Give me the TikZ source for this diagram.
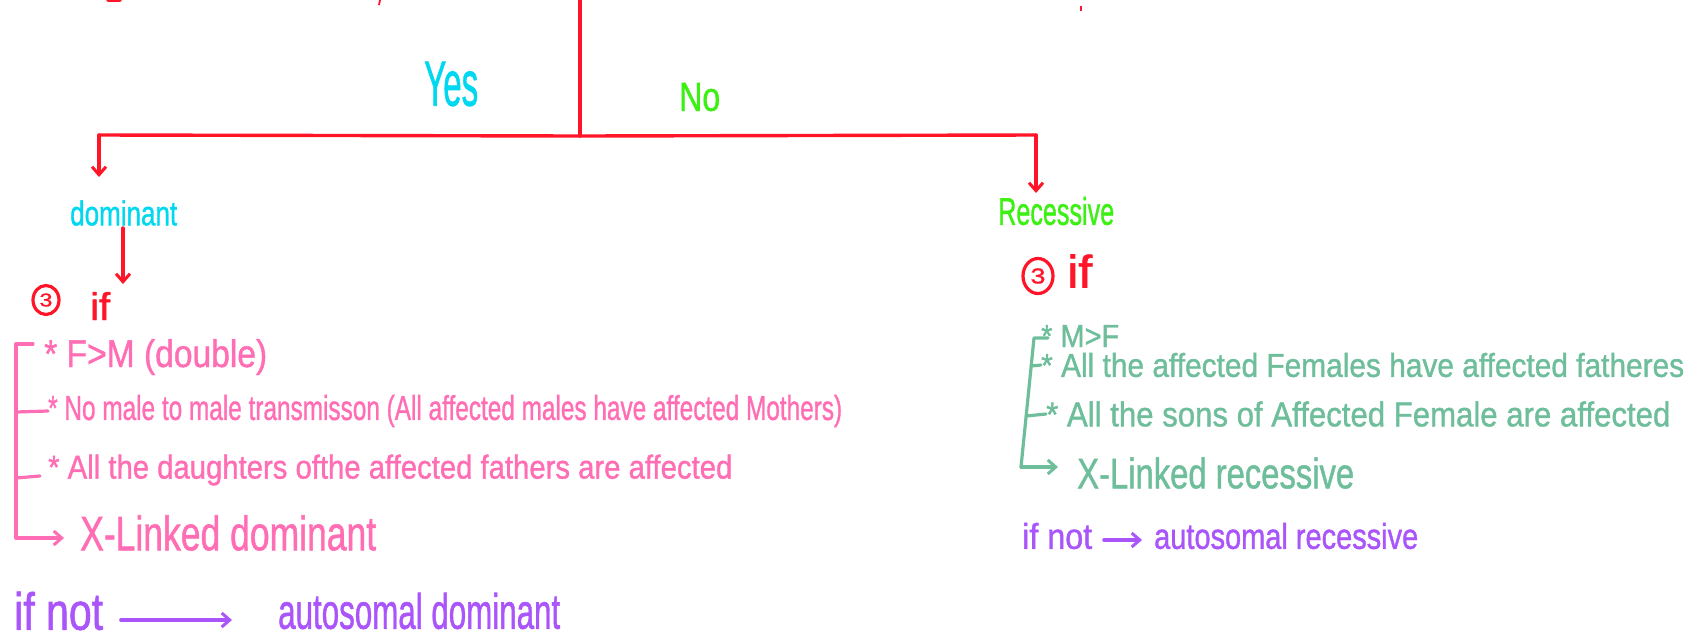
\documentclass[tikz,border=0pt]{standalone}
\usepackage{fontspec}
\usetikzlibrary{arrows.meta,shapes.geometric}
\newfontfamily\hand[FakeBold=1.2]{Liberation Sans}
\definecolor{hred}{RGB}{255,20,40}
\definecolor{hcyan}{RGB}{0,215,240}
\definecolor{hgreen}{RGB}{60,240,20}
\definecolor{hpink}{RGB}{255,110,180}
\definecolor{hteal}{RGB}{110,190,155}
\definecolor{hpurple}{RGB}{170,85,250}
\newcommand\hw[3]{\resizebox{#1pt}{#2pt}{\hand #3}}
\begin{document}
\begin{tikzpicture}[x=1pt,y=-1pt,
  txt/.style={inner sep=0pt, anchor=west},
  redline/.style={draw=hred, line width=3.4pt, line cap=round, line join=round},
  pinkline/.style={draw=hpink, line width=3.2pt, line cap=round, line join=round},
  tealline/.style={draw=hteal, line width=3.2pt, line cap=round, line join=round},
  purpline/.style={draw=hpurple, line width=3.6pt, line cap=round},
  tip/.style={-{Straight Barb[length=8pt,width=14pt,line width=3pt]}},
  circ/.style={ellipse, draw=hred, line width=3.2pt, inner sep=0pt, text=hred}]
\useasboundingbox (0,0) rectangle (1704,638);
% tiny fragments at the top edge
\draw[hred, line width=3.5pt, line cap=round] (108,0.5) -- (120,0.5);
\draw[hred, line width=1.8pt] (380,0) -- (379,5);
\draw[hred, line width=1.8pt] (1081,6) -- (1081,11);
% top tree
\coordinate (top) at (580,0);
\coordinate (j) at (580,136);
\coordinate (lc) at (99,135);
\coordinate (rc) at (1036,135);
\coordinate (ld) at (99,177);
\coordinate (rd) at (1036,193);
\draw[redline] (top) -- (j);
\draw[redline] (j) -- (lc);
\draw[redline] (j) -- (rc);
\draw[redline, tip] (lc) -- (ld);
\draw[redline, tip] (rc) -- (rd);
\node[txt, text=hcyan] (yes) at (424,84) {\hw{54}{44}{Yes}};
\node[txt, text=hgreen] (no) at (679,97) {\hw{41}{28}{No}};
% left branch
\node[txt, text=hcyan] (dom) at (70,213) {\hw{107}{25}{dominant}};
\coordinate (da) at (123,228);
\coordinate (db) at (123,284);
\draw[redline, tip] (da) -- (db);
\node[circ, minimum width=26pt, minimum height=29pt] (c3l) at (46,300) {\hw{13}{13}{3}};
\node[txt, text=hred] (ifl) at (90,306) {\hw{20}{28}{if}};
\node[txt, text=hpink] (l1) at (44,357) {\hw{223}{28}{* F>M (double)}};
\node[txt, text=hpink] (l2) at (48,411) {\hw{794}{25}{* No male to male transmisson (All affected males have affected Mothers)}};
\node[txt, text=hpink] (l3) at (48,470) {\hw{684}{24}{* All the daughters ofthe affected fathers are affected}};
\node[txt, text=hpink] (l4) at (80,533) {\hw{296}{35}{X-Linked dominant}};
\coordinate (bl0) at (33,344);
\coordinate (bl1) at (16,344);
\coordinate (bl2) at (16,538);
\coordinate (bl3) at (64,538);
\draw[pinkline] (bl0) -- (bl1) -- (bl2);
\draw[pinkline, tip] (bl2) -- (bl3);
\draw[pinkline] (16,412) -- (l2.west);
\draw[pinkline] (16,478) -- (40,476);
\node[txt, text=hpurple] (nl) at (14,611) {\hw{89}{38}{if not}};
\node[txt, text=hpurple] (al) at (278,611) {\hw{282}{36}{autosomal dominant}};
\coordinate (pa) at (121,620);
\coordinate (pb) at (232,620);
\draw[purpline, tip] (pa) -- (pb);
% right branch
\node[txt, text=hgreen] (rec) at (998,211) {\hw{116}{28}{Recessive}};
\node[circ, minimum width=30pt, minimum height=35pt] (c3r) at (1038,276) {\hw{15}{15}{3}};
\node[txt, text=hred] (ifr) at (1067,271) {\hw{25}{33}{if}};
\node[txt, text=hteal] (r1) at (1041,336) {\hw{78}{22}{* M>F}};
\node[txt, text=hteal] (r2) at (1041,365) {\hw{643}{24}{* All the affected Females have affected fatheres}};
\node[txt, text=hteal] (r3) at (1046,414) {\hw{624}{25}{* All the sons of Affected Female are affected}};
\node[txt, text=hteal] (r4) at (1077,473) {\hw{277}{31}{X-Linked recessive}};
\coordinate (br0) at (1048,338);
\coordinate (br1) at (1034,338);
\coordinate (br2) at (1021,467);
\coordinate (br3) at (1058,467);
\draw[tealline] (br0) -- (br1) -- (br2);
\draw[tealline, tip] (br2) -- (br3);
\draw[tealline] (1031,366) -- (r2.west);
\draw[tealline] (1026,416) -- (r3.west);
\node[txt, text=hpurple] (nr) at (1022,536) {\hw{70}{26}{if not}};
\node[txt, text=hpurple] (ar) at (1154,536) {\hw{264}{26}{autosomal recessive}};
\coordinate (qa) at (1104,540);
\coordinate (qb) at (1142,540);
\draw[purpline, tip] (qa) -- (qb);
\end{tikzpicture}
\end{document}
